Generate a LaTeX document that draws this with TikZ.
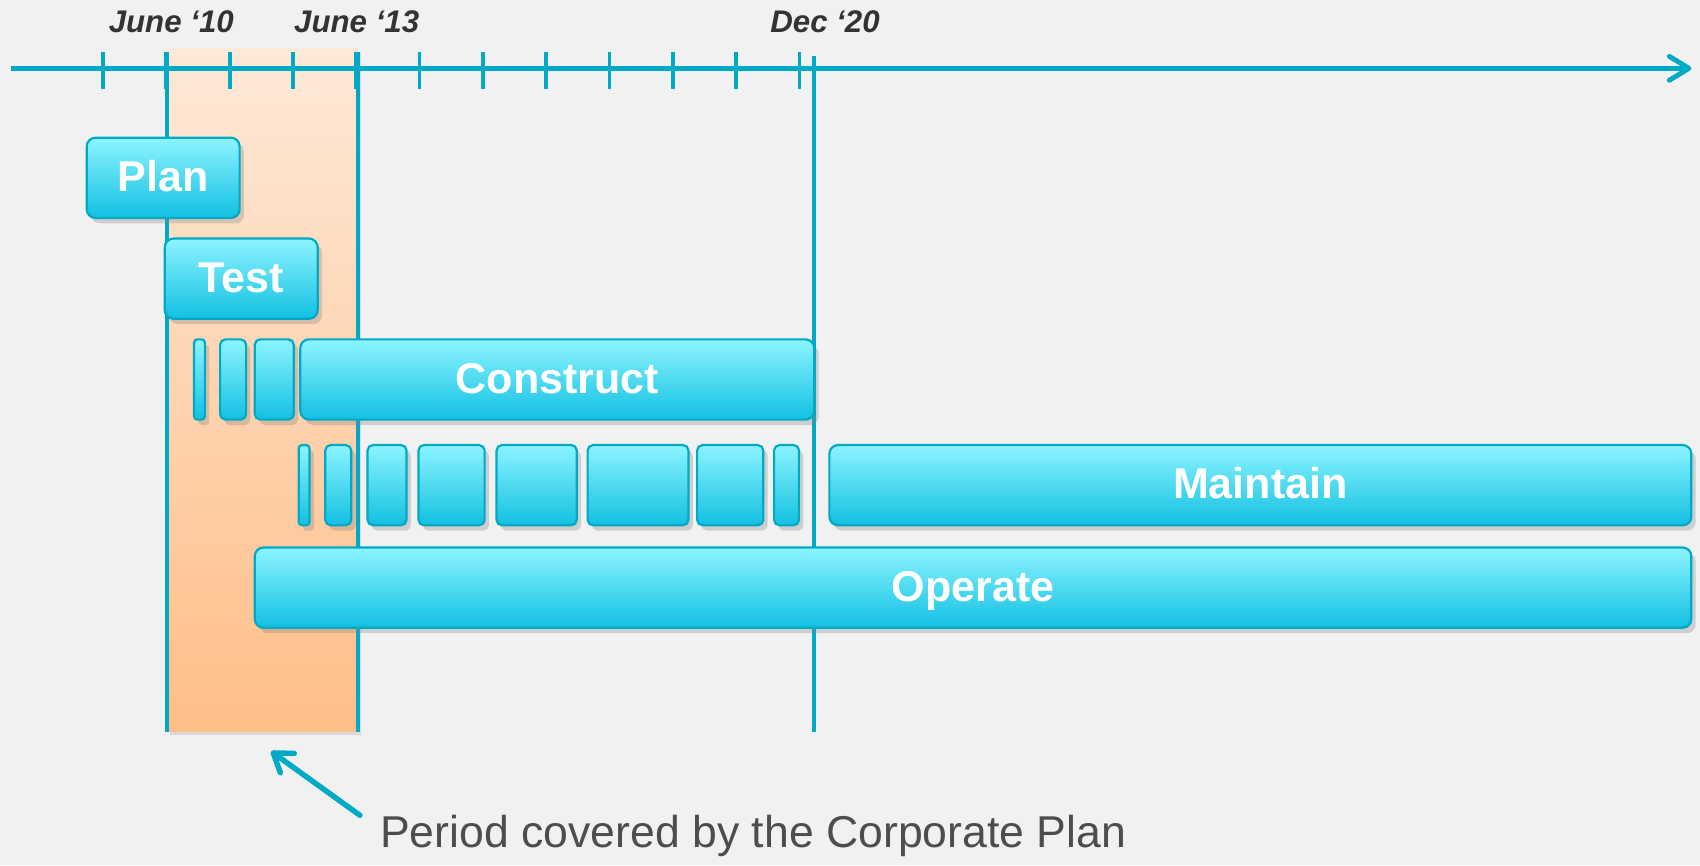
\documentclass[tikz,border=0pt]{standalone}
\usepackage{fontspec}
\setmainfont{Liberation Sans}
\usetikzlibrary{arrows.meta}
\usetikzlibrary{shadows}
\definecolor{tealline}{RGB}{0,170,198}
\definecolor{boxtop}{RGB}{140,244,255}
\definecolor{boxbottom}{RGB}{18,192,226}
\definecolor{planlight}{RGB}{253,233,216}
\definecolor{plandark}{RGB}{255,190,136}
\definecolor{bggray}{RGB}{241,241,241}
\definecolor{datetext}{RGB}{51,51,51}
\definecolor{captiontext}{RGB}{77,77,77}

\begin{document}
\begin{tikzpicture}[x=0.1mm, y=-0.1mm,
    axis/.style={line width=0.45mm, color=tealline, -{Straight Barb[length=1.8mm,width=2.2mm,round]}},
    pointer/.style={line width=0.5mm, color=tealline, line cap=round, -{Straight Barb[length=1.6mm,width=2.2mm,round]}},
    tick line/.style={line width=0.35mm, color=tealline},
    marker line/.style={line width=0.35mm, color=tealline},
    phase/.style={draw=tealline, line width=0.2mm, top color=boxtop, bottom color=boxbottom,
        rounded corners=0.8mm, minimum height=7.4mm, inner sep=0pt, text=white,
        text height=0.716em, text depth=0pt,
        font=\bfseries\fontsize{11.3}{13}\selectfont,
        drop shadow={shadow xshift=0.4mm, shadow yshift=-0.5mm, opacity=0.3}},
    slice/.style={phase, rounded corners=0.5mm},
    thin slice/.style={phase, rounded corners=0.3mm},
    date label/.style={text=datetext, font=\bfseries\itshape\fontsize{8.2}{10}\selectfont},
    ]

%% background and frame
\fill[bggray] (0,0) rectangle (1568,798);
\useasboundingbox (0,0) rectangle (1568,798);

%% period of the corporate plan
\shade[top color=planlight, bottom color=plandark,
    drop shadow={shadow xshift=0.3mm, shadow yshift=-0.3mm, opacity=0.2}] (154,45) rectangle (330,675);

%% draw coordinates
\coordinate (axis start) at (10,63);   \coordinate (axis end) at (1560,63);
\coordinate (jun10 top) at (154,48);   \coordinate (jun10 bottom) at (154,675);
\coordinate (jun13 top) at (330,48);   \coordinate (jun13 bottom) at (330,675);
\coordinate (dec20 top) at (751,52);   \coordinate (dec20 bottom) at (751,675);
\coordinate (arrow tail) at (332,752); \coordinate (arrow tip) at (250,693);

%% time axis
\foreach \k in {0,...,11}
    \draw[tick line] ({95+58.4*\k},48) -- ({95+58.4*\k},82);
\draw[axis] (axis start) -- (axis end);
\draw[marker line] (jun10 top) -- (jun10 bottom);
\draw[marker line] (jun13 top) -- (jun13 bottom);
\draw[marker line] (dec20 top) -- (dec20 bottom);

%% label dates
\node[date label] (jun10) at (158,20) {June ‘10};
\node[date label] (jun13) at (329,20) {June ‘13};
\node[date label] (dec20) at (761,20) {Dec ‘20};

%% draw phases
\node[phase, minimum width=14.1mm] (plan) at (150.5,164) {Plan};
\node[phase, minimum width=14.1mm] (test) at (222.5,257) {Test};

\node[thin slice, minimum width=1mm] (c1) at (184,350) {};
\node[slice, minimum width=2.4mm] (c2) at (215,350) {};
\node[slice, minimum width=3.6mm] (c3) at (253,350) {};
\node[phase, minimum width=47.4mm] (construct) at (514,350) {Construct};

\node[thin slice, minimum width=1mm] (m1) at (280.5,447.5) {};
\node[slice, minimum width=2.4mm] (m2) at (312,447.5) {};
\node[slice, minimum width=3.6mm] (m3) at (357,447.5) {};
\node[slice, minimum width=6.1mm] (m4) at (416.5,447.5) {};
\node[slice, minimum width=7.4mm] (m5) at (495,447.5) {};
\node[slice, minimum width=9.3mm] (m6) at (588.5,447.5) {};
\node[slice, minimum width=6.1mm] (m7) at (673.5,447.5) {};
\node[slice, minimum width=2.3mm] (m8) at (725.5,447.5) {};
\node[phase, minimum width=79.5mm] (maintain) at (1162.5,447.5) {Maintain};

\node[phase, minimum width=132.5mm] (operate) at (897.5,542) {Operate};

%% caption and pointer
\node[anchor=base west, inner sep=0pt, text=captiontext, font=\fontsize{11.7}{14}\selectfont] (caption)
    at (350,782) {Period covered by the Corporate Plan};
\draw[pointer] (arrow tail) -- (arrow tip);

\end{tikzpicture}
\end{document}
